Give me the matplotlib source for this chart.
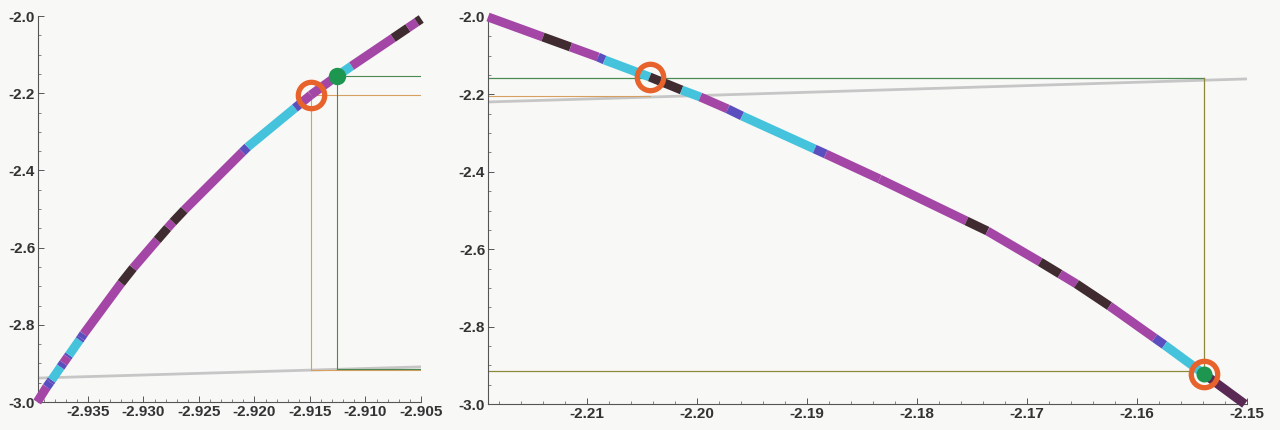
import matplotlib
matplotlib.use('Agg')
import matplotlib.pyplot as plt
from matplotlib.collections import LineCollection
from matplotlib.ticker import MultipleLocator, FormatStrFormatter
import numpy as np

# ---- data ----
# left panel curve (bottom -> top), band key for each piece between points
left_x = [-2.93957, -2.93872, -2.93840, -2.93827, -2.93746, -2.93721, -2.93683, -2.93670,
          -2.93576, -2.93563, -2.93539, -2.93200, -2.93093, -2.92876, -2.92782, -2.92734,
          -2.92632, -2.92108, -2.92062, -2.91635, -2.91580, -2.91493, -2.91258, -2.91204,
          -2.91125, -2.90751, -2.90618, -2.90538, -2.90498]
left_y = [-3.0000, -2.9611, -2.9482, -2.9430, -2.9093, -2.8990, -2.8834, -2.8782,
          -2.8394, -2.8342, -2.8238, -2.6917, -2.6529, -2.5803, -2.5492, -2.5337,
          -2.5026, -2.3523, -2.3394, -2.2383, -2.2254, -2.2047, -2.1554, -2.1451,
          -2.1295, -2.0570, -2.0311, -2.0155, -2.0078]
left_bands = ['p', 'b', 'b', 'c', 'b', 'p', 'b', 'c', 'b', 'b', 'p', 'k', 'p', 'k', 'p',
              'k', 'p', 'b', 'c', 'b', 'p', 'p', 'p', 'c', 'p', 'k', 'p', 'k']

# right panel curve (top-left -> bottom-right)
right_x = [-2.2190, -2.2140, -2.2115, -2.2090, -2.2084, -2.2043, -2.2014, -2.1997,
           -2.1972, -2.1959, -2.1893, -2.1883, -2.1834, -2.1755, -2.1736, -2.1688,
           -2.1670, -2.1655, -2.1625, -2.1584, -2.1575, -2.1539, -2.1502]
right_y = [-2.0000, -2.0517, -2.0775, -2.1034, -2.1111, -2.1550, -2.1886, -2.2067,
           -2.2377, -2.2558, -2.3411, -2.3540, -2.4186, -2.5271, -2.5530, -2.6331,
           -2.6641, -2.6899, -2.7468, -2.8295, -2.8475, -2.9225, -3.0000]
right_bands = ['p', 'k', 'p', 'b', 'c', 'k', 'c', 'p', 'b', 'c', 'b', 'p', 'p', 'k',
               'p', 'k', 'p', 'k', 'p', 'b', 'c', 'd']

# marked points
left_ring = (-2.91493, -2.20466)
left_dot = (-2.91258, -2.15544)
right_ring_x = [-2.2043, -2.1539]
right_ring_y = [-2.1550, -2.9225]
right_dot = (-2.1539, -2.9225)

# guide levels
left_floor = -2.917
right_floor = -2.915
left_gray_x = [-2.9395, -2.905]
left_gray_y = [-2.938, -2.909]
right_gray_x = [-2.219, -2.15]
right_gray_y = [-2.2196, -2.160]
right_green_y = -2.157
right_orange_y = -2.2041

band_colors = {'p': '#a346a6', 'c': '#45c3dc', 'k': '#3f2b30', 'b': '#5b4fbf', 'd': '#5a2a55'}
bg = '#f8f8f6'
orange = '#e8622c'
green = '#1d9650'
guide_o = '#d6a062'
guide_g = '#4b8a52'
olive = '#8c8a3a'

plt.rcParams['font.family'] = ['Liberation Sans', 'DejaVu Sans']
plt.rcParams['font.weight'] = 'bold'

fig = plt.figure(figsize=(12.8, 4.3), dpi=100, facecolor=bg)
axL = fig.add_axes([38 / 1280, 28 / 430, 383 / 1280, 386 / 430])
axR = fig.add_axes([488 / 1280, 26 / 430, 759 / 1280, 387 / 430])


def curve(ax, xs, ys, bands):
    pts = np.column_stack([xs, ys])
    segs = np.stack([pts[:-1], pts[1:]], axis=1)
    lc = LineCollection(segs, colors=[band_colors[b] for b in bands], linewidths=6.5,
                        capstyle='butt', zorder=3, clip_on=False)
    ax.add_collection(lc)


# left panel
axL.plot(left_gray_x, left_gray_y, color='#c6c6c6', lw=2, zorder=1)
axL.plot([left_ring[0], left_ring[0]], [left_ring[1], left_floor], color=guide_o, lw=0.8, zorder=2)
axL.plot([left_ring[0], -2.905], [left_floor, left_floor], color=guide_o, lw=0.8, zorder=2)
axL.plot([left_ring[0], -2.905], [left_ring[1], left_ring[1]], color=guide_o, lw=0.8, zorder=2)
axL.plot([left_dot[0], left_dot[0]], [left_dot[1], left_floor + 0.002], color=guide_g, lw=0.8, zorder=2)
axL.plot([left_dot[0], -2.905], [left_floor + 0.002, left_floor + 0.002], color=guide_g, lw=0.8, zorder=2)
axL.plot([left_dot[0], -2.905], [left_dot[1], left_dot[1]], color=guide_g, lw=0.8, zorder=2)
curve(axL, left_x, left_y, left_bands)
axL.plot(*left_ring, 'o', ms=19, mfc='none', mec=orange, mew=3.8, zorder=5)
axL.plot(*left_dot, 'o', ms=11.5, color=green, zorder=5)
axL.set_xlim(-2.9395, -2.905)
axL.xaxis.set_major_locator(MultipleLocator(0.005))
axL.xaxis.set_minor_locator(MultipleLocator(0.001))
axL.xaxis.set_major_formatter(FormatStrFormatter('%.3f'))

# right panel
axR.plot(right_gray_x, right_gray_y, color='#c6c6c6', lw=2, zorder=1)
axR.plot([-2.219, right_ring_x[0]], [right_orange_y, right_orange_y], color=guide_o, lw=0.8, zorder=2)
axR.plot([-2.219, right_dot[0]], [right_green_y, right_green_y], color=guide_g, lw=0.9, zorder=2)
axR.plot([right_dot[0], right_dot[0]], [right_green_y, right_dot[1]], color=olive, lw=0.9, zorder=2)
axR.plot([-2.219, right_dot[0]], [right_floor, right_floor], color=olive, lw=0.9, zorder=2)
curve(axR, right_x, right_y, right_bands)
axR.plot(right_ring_x, right_ring_y, 'o', ms=19, mfc='none', mec=orange, mew=3.8, zorder=5)
axR.plot(*right_dot, 'o', ms=10.5, color=green, zorder=6)
axR.set_xlim(-2.219, -2.15)
axR.xaxis.set_major_locator(MultipleLocator(0.01))
axR.xaxis.set_minor_locator(MultipleLocator(0.002))
axR.xaxis.set_major_formatter(FormatStrFormatter('%.2f'))

for ax in (axL, axR):
    ax.set_facecolor(bg)
    ax.set_ylim(-3.0, -2.0)
    ax.yaxis.set_major_locator(MultipleLocator(0.2))
    ax.yaxis.set_minor_locator(MultipleLocator(0.05))
    ax.yaxis.set_major_formatter(FormatStrFormatter('%.1f'))
    for s in ('top', 'right'):
        ax.spines[s].set_visible(False)
    for s in ('left', 'bottom'):
        ax.spines[s].set_color('#555555')
        ax.spines[s].set_linewidth(0.8)
    ax.tick_params(which='major', direction='in', length=4, width=0.7, color='#555555',
                   labelsize=11, labelcolor='#333333', pad=2)
    ax.tick_params(which='minor', direction='in', length=2, width=0.5, color='#555555')

fig.savefig('out.png', dpi=100, facecolor=bg)
